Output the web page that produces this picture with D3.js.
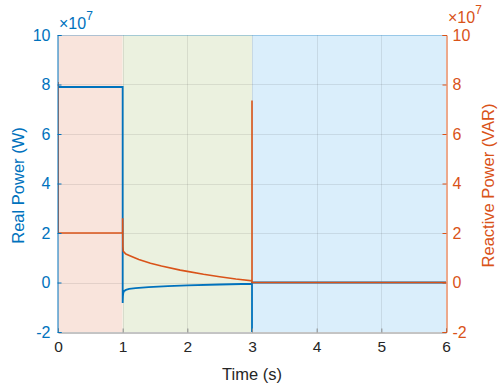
<!DOCTYPE html>
<html>
<head>
<meta charset="utf-8">
<script src="https://cdn.jsdelivr.net/npm/d3@7"></script>
<style>
  body { margin: 0; background: #fff; }
  text { font-family: "Liberation Sans", Arial, Helvetica, sans-serif; }
</style>
</head>
<body>
<svg id="chart" width="499" height="391"></svg>
<script>
// Operating phases shaded behind the traces
const phaseStart = [0, 1, 3];
const phaseEnd   = [1, 3, 6];
const phaseColor = ["#f9e4dc", "#ebf1df", "#daeefb"];

// Real power trace (W)
const realTime  = [0, 1, 1, 1.004, 1.01, 1.02, 1.05, 1.1, 1.2, 1.4, 1.7, 2.0, 2.5, 3.0, 3.0, 3.0, 6];
const realPower = [7.9e7, 7.9e7, -0.83e7, -0.55e7, -0.42e7, -0.35e7, -0.3e7, -0.26e7, -0.23e7, -0.19e7, -0.15e7, -0.12e7, -0.08e7, -0.05e7, -2.5e7, 0, 0];

// Reactive power trace (VAR)
const reacTime  = [0, 0.002, 1, 1, 1.003, 1.01, 1.05, 1.12, 1.25, 1.43, 1.6, 1.89, 2.0, 2.25, 2.5, 2.75, 3.0, 3.0, 3.0, 6];
const reacPower = [8.1e7, 2e7, 2e7, 2.6e7, 1.45e7, 1.26e7, 1.15e7, 1.07e7, 0.93e7, 0.78e7, 0.67e7, 0.5e7, 0.45e7, 0.33e7, 0.23e7, 0.14e7, 0.07e7, 7.35e7, 0, 0];

const xTicks = [0, 1, 2, 3, 4, 5, 6];
const yTicks = [-2e7, 0, 2e7, 4e7, 6e7, 8e7, 10e7];
const yScaleFactor = 1e7;

const blue = "#0072BD", orange = "#D95319", ink = "#262626";
const pL = 58, pR = 446, pT = 35, pB = 332;

const svg = d3.select("#chart");
const x = d3.scaleLinear().domain([0, 6]).range([pL, pR]);
const yL = d3.scaleLinear().domain([-2e7, 10e7]).range([pB, pT]);
const yR = d3.scaleLinear().domain([-2e7, 10e7]).range([pB, pT]);

svg.append("defs").append("clipPath").attr("id", "plotClip")
  .append("rect").attr("x", pL).attr("y", pT).attr("width", pR - pL).attr("height", pB - pT);

// phase shading
svg.append("g").selectAll("rect").data(phaseStart).join("rect")
  .attr("x", (d) => x(d))
  .attr("width", (d, i) => x(phaseEnd[i]) - x(d))
  .attr("y", pT).attr("height", pB - pT)
  .attr("fill", (d, i) => phaseColor[i]);

// grid
const grid = svg.append("g").attr("stroke", ink).attr("stroke-opacity", 0.1).attr("stroke-width", 1);
grid.selectAll(".gx").data(xTicks.slice(1, -1)).join("line")
  .attr("x1", (d) => Math.round(x(d)) + 0.5).attr("x2", (d) => Math.round(x(d)) + 0.5)
  .attr("y1", pT).attr("y2", pB);
grid.selectAll(".gy").data(yTicks.slice(1, -1)).join("line")
  .attr("y1", (d) => Math.round(yL(d)) + 0.5).attr("y2", (d) => Math.round(yL(d)) + 0.5)
  .attr("x1", pL).attr("x2", pR);

// traces
const plot = svg.append("g").attr("clip-path", "url(#plotClip)");
const lineL = d3.line().x((d) => x(d[0])).y((d) => yL(d[1]));
const lineR = d3.line().x((d) => x(d[0])).y((d) => yR(d[1]));
plot.append("path").datum(realTime.map((t, i) => [t, realPower[i]]))
  .attr("d", lineL).attr("fill", "none").attr("stroke", blue).attr("stroke-width", 1.8);
plot.append("path").datum(reacTime.map((t, i) => [t, reacPower[i]]))
  .attr("d", lineR).attr("fill", "none").attr("stroke", orange).attr("stroke-width", 1.6);

// top border
svg.append("line").attr("x1", pL).attr("x2", pR).attr("y1", pT + 0.5).attr("y2", pT + 0.5)
  .attr("stroke", blue).attr("stroke-opacity", 0.3);

// axes (plain hyphen for negatives)
const fmt = (d) => String(Math.round(d / yScaleFactor));
const xAxis = d3.axisBottom(x).tickValues(xTicks).tickSize(-4).tickPadding(8).tickFormat((d) => String(d));
const gx = svg.append("g").attr("transform", `translate(0,${pB + 0.5})`).call(xAxis);
gx.select(".domain").attr("stroke", "#8a8a8a");
gx.selectAll(".tick line").attr("stroke", "#8a8a8a");
gx.selectAll("text").attr("fill", ink).attr("font-size", 15.5);

const gl = svg.append("g").attr("transform", `translate(${pL - 0.5},0)`)
  .call(d3.axisLeft(yL).tickValues(yTicks).tickSize(-4).tickPadding(7).tickFormat(fmt));
gl.select(".domain").attr("stroke", blue);
gl.selectAll(".tick line").attr("stroke", blue);
gl.selectAll("text").attr("fill", blue).attr("font-size", 16);

const gr = svg.append("g").attr("transform", `translate(${pR + 0.5},0)`)
  .call(d3.axisRight(yR).tickValues(yTicks).tickSize(-4).tickPadding(6).tickFormat(fmt));
gr.select(".domain").attr("stroke", orange);
gr.selectAll(".tick line").attr("stroke", orange);
gr.selectAll("text").attr("fill", orange).attr("font-size", 16);

// exponent markers
function exponent(xPos, yPos, color) {
  const t = svg.append("text").attr("x", xPos).attr("y", yPos).attr("fill", color).attr("font-size", 16);
  t.append("tspan").text("\u00d710");
  t.append("tspan").attr("dy", -9).attr("font-size", 12).text("7");
}
exponent(pL + 1, 29, blue);
exponent(pR + 2, 23, orange);

// axis titles
svg.append("text").attr("x", (pL + pR) / 2).attr("y", 380).attr("text-anchor", "middle")
  .attr("fill", ink).attr("font-size", 16.5).text("Time (s)");
svg.append("text").attr("transform", `translate(24,${(pT + pB) / 2 + 2}) rotate(-90)`)
  .attr("text-anchor", "middle").attr("fill", blue).attr("font-size", 16.5).text("Real Power (W)");
svg.append("text").attr("transform", `translate(494,${(pT + pB) / 2 + 2}) rotate(-90)`)
  .attr("text-anchor", "middle").attr("fill", orange).attr("font-size", 16.5).text("Reactive Power (VAR)");
</script>
</body>
</html>
